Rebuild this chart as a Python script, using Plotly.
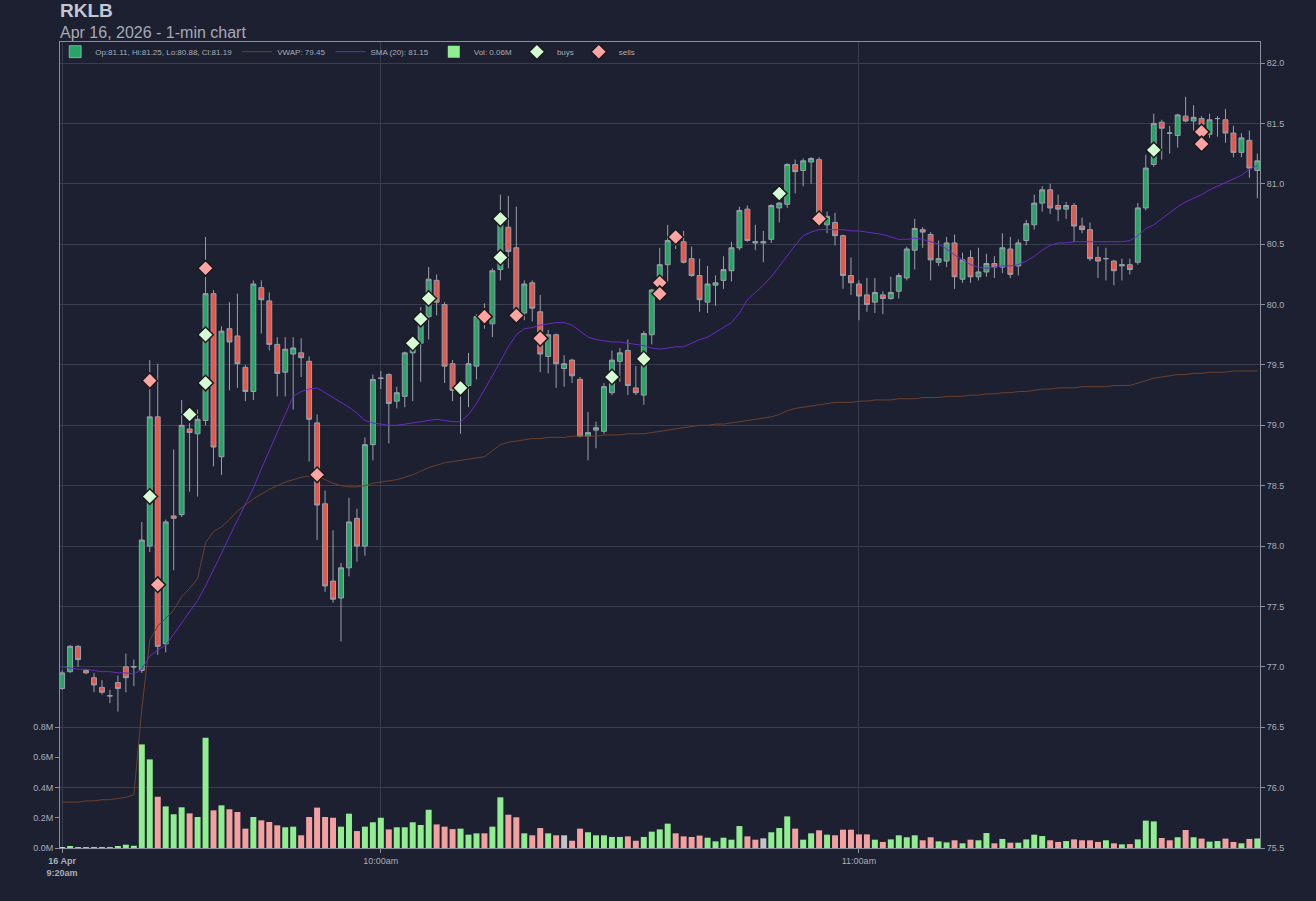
import pandas as pd
import plotly.graph_objects as go

# ---- data (16 Apr 2026, 9:20am -> 11:50am) ----
start_time = "2026-04-16 09:20"

opens = [
    76.82, 76.96, 77.17, 76.97, 76.91, 76.83, 76.76, 76.87, 77.00, 77.00,
    76.97, 78.00, 79.07, 77.19, 78.25, 78.26, 78.97, 78.93, 79.04, 80.09,
    78.74, 79.80, 79.74, 79.48, 79.28, 80.14, 80.03, 79.67, 79.44, 79.59,
    79.60, 79.53, 79.02, 78.35, 77.71, 77.57, 77.82, 78.23, 78.00, 78.84,
    79.39, 79.42, 79.20, 79.24, 79.60, 79.68, 79.90, 80.20, 80.00, 79.51,
    79.28, 79.33, 79.49, 79.88, 79.84, 80.29, 80.64, 80.47, 79.93, 80.18,
    79.94, 79.57, 79.75, 79.47, 79.54, 79.38, 78.91, 78.96, 78.95, 79.27,
    79.53, 79.62, 79.31, 79.25, 79.75, 80.11, 80.33, 80.56, 80.52, 80.38,
    80.24, 80.02, 80.16, 80.20, 80.28, 80.47, 80.79, 80.51, 80.51, 80.54,
    80.80, 80.83, 81.16, 81.11, 81.18, 81.20, 80.66, 80.68, 80.57, 80.24,
    80.17, 80.08, 80.02, 80.08, 80.05, 80.11, 80.22, 80.45, 80.62, 80.58,
    80.35, 80.36, 80.51, 80.21, 80.39, 80.23, 80.27, 80.34, 80.31, 80.46,
    80.32, 80.53, 80.66, 80.84, 80.95, 80.82, 80.79, 80.82, 80.65, 80.62,
    80.39, 80.38, 80.36, 80.32, 80.33, 80.35, 80.80, 81.16, 81.51, 81.42,
    81.40, 81.56, 81.52, 81.54, 81.41, 81.54, 81.53, 81.42, 81.26, 81.36,
    81.11,
]
highs = [
    76.97, 77.18, 77.18, 76.98, 76.95, 76.89, 76.81, 76.93, 77.11, 77.06,
    78.20, 79.54, 79.51, 78.22, 78.80, 79.21, 79.13, 79.13, 80.56, 80.12,
    79.82, 80.02, 80.09, 79.50, 80.20, 80.20, 80.10, 79.73, 79.73, 79.73,
    79.72, 79.57, 79.09, 78.46, 78.13, 77.86, 78.40, 78.31, 78.90, 79.42,
    79.45, 79.43, 79.32, 79.61, 79.71, 79.98, 80.31, 80.25, 80.02, 79.54,
    79.36, 79.60, 79.92, 80.01, 80.30, 80.91, 80.90, 80.81, 80.20, 80.20,
    80.08, 79.79, 79.76, 79.58, 79.55, 79.40, 79.11, 79.03, 79.35, 79.62,
    79.64, 79.71, 79.49, 79.78, 80.13, 80.47, 80.66, 80.63, 80.61, 80.48,
    80.38, 80.32, 80.24, 80.40, 80.52, 80.81, 80.82, 80.66, 80.61, 80.83,
    80.88, 81.17, 81.20, 81.21, 81.22, 81.22, 80.77, 80.76, 80.58, 80.39,
    80.20, 80.22, 80.22, 80.11, 80.23, 80.26, 80.48, 80.71, 80.64, 80.60,
    80.53, 80.56, 80.58, 80.43, 80.45, 80.47, 80.42, 80.40, 80.59, 80.56,
    80.54, 80.70, 80.91, 80.98, 81.00, 80.91, 80.85, 80.84, 80.72, 80.68,
    80.48, 80.47, 80.37, 80.38, 80.38, 80.84, 81.24, 81.58, 81.53, 81.48,
    81.58, 81.72, 81.65, 81.56, 81.58, 81.56, 81.62, 81.48, 81.42, 81.44,
    81.25,
]
lows = [
    76.81, 76.95, 77.00, 76.94, 76.79, 76.77, 76.70, 76.63, 76.79, 76.84,
    76.95, 77.95, 77.10, 77.12, 77.80, 78.24, 78.45, 78.41, 79.00, 78.66,
    78.59, 79.29, 79.31, 79.20, 79.21, 79.76, 79.62, 79.24, 79.24, 79.13,
    79.40, 78.70, 78.05, 77.62, 77.53, 77.21, 77.75, 77.87, 77.92, 78.71,
    79.30, 78.85, 79.14, 79.15, 79.20, 79.36, 79.71, 79.91, 79.35, 79.20,
    78.93, 79.15, 79.38, 79.80, 79.73, 80.20, 80.30, 79.90, 79.87, 79.86,
    79.44, 79.43, 79.31, 79.32, 79.35, 78.90, 78.71, 78.81, 78.93, 79.25,
    79.36, 79.25, 79.25, 79.17, 79.67, 80.02, 80.19, 80.46, 80.34, 80.23,
    79.94, 79.93, 79.99, 80.13, 80.19, 80.45, 80.52, 80.45, 80.35, 80.51,
    80.68, 80.80, 80.92, 80.98, 81.00, 80.70, 80.59, 80.49, 80.13, 80.08,
    79.87, 79.94, 79.93, 79.92, 80.04, 80.05, 80.20, 80.29, 80.47, 80.20,
    80.32, 80.31, 80.13, 80.18, 80.18, 80.20, 80.23, 80.22, 80.26, 80.22,
    80.24, 80.49, 80.62, 80.77, 80.75, 80.69, 80.71, 80.52, 80.59, 80.36,
    80.22, 80.20, 80.16, 80.20, 80.25, 80.33, 80.78, 81.14, 81.20, 81.25,
    81.30, 81.51, 81.44, 81.40, 81.38, 81.39, 81.34, 81.22, 81.22, 81.05,
    80.88,
]
closes = [
    76.95, 77.17, 77.06, 76.95, 76.85, 76.79, 76.76, 76.82, 76.91, 77.00,
    78.05, 79.07, 77.17, 78.20, 78.23, 79.00, 78.94, 79.05, 80.09, 78.82,
    79.78, 79.69, 79.51, 79.28, 80.17, 80.04, 79.67, 79.43, 79.63, 79.64,
    79.56, 79.05, 78.34, 77.67, 77.56, 77.82, 78.20, 78.00, 78.84, 79.38,
    79.39, 79.18, 79.27, 79.60, 79.64, 79.87, 80.21, 80.02, 79.49, 79.29,
    79.33, 79.51, 79.90, 79.86, 80.28, 80.67, 80.44, 79.93, 80.17, 79.97,
    79.59, 79.75, 79.51, 79.51, 79.41, 78.91, 78.94, 78.98, 79.32, 79.54,
    79.60, 79.33, 79.27, 79.76, 80.12, 80.33, 80.53, 80.52, 80.35, 80.24,
    80.04, 80.17, 80.18, 80.29, 80.47, 80.78, 80.53, 80.52, 80.52, 80.82,
    80.84, 81.16, 81.10, 81.19, 81.21, 80.72, 80.73, 80.57, 80.24, 80.18,
    80.07, 80.00, 80.10, 80.05, 80.10, 80.24, 80.46, 80.63, 80.60, 80.37,
    80.38, 80.51, 80.23, 80.37, 80.23, 80.27, 80.34, 80.31, 80.47, 80.25,
    80.51, 80.67, 80.84, 80.95, 80.80, 80.79, 80.82, 80.65, 80.62, 80.38,
    80.36, 80.38, 80.28, 80.33, 80.29, 80.80, 81.13, 81.50, 81.46, 81.42,
    81.57, 81.52, 81.55, 81.49, 81.53, 81.54, 81.42, 81.26, 81.38, 81.13,
    81.19,
]
# volume in millions of shares
volumes = [
    0.005, 0.011, 0.004, 0.002, 0.004, 0.002, 0.004, 0.011, 0.022, 0.015,
    0.685, 0.586, 0.339, 0.275, 0.223, 0.269, 0.229, 0.205, 0.729, 0.249,
    0.282, 0.256, 0.238, 0.128, 0.205, 0.183, 0.172, 0.150, 0.137, 0.141,
    0.084, 0.205, 0.267, 0.205, 0.200, 0.141, 0.227, 0.112, 0.141, 0.170,
    0.200, 0.123, 0.137, 0.137, 0.170, 0.152, 0.253, 0.156, 0.141, 0.125,
    0.128, 0.088, 0.097, 0.097, 0.141, 0.335, 0.220, 0.203, 0.097, 0.084,
    0.132, 0.097, 0.084, 0.084, 0.048, 0.128, 0.104, 0.084, 0.084, 0.073,
    0.073, 0.077, 0.048, 0.073, 0.108, 0.123, 0.161, 0.097, 0.077, 0.073,
    0.082, 0.068, 0.044, 0.068, 0.055, 0.145, 0.077, 0.055, 0.064, 0.104,
    0.132, 0.209, 0.128, 0.055, 0.097, 0.117, 0.088, 0.084, 0.121, 0.121,
    0.090, 0.090, 0.055, 0.040, 0.057, 0.084, 0.071, 0.084, 0.051, 0.071,
    0.044, 0.037, 0.051, 0.031, 0.055, 0.051, 0.099, 0.031, 0.060, 0.035,
    0.035, 0.057, 0.088, 0.079, 0.051, 0.040, 0.046, 0.057, 0.051, 0.051,
    0.040, 0.051, 0.031, 0.024, 0.026, 0.057, 0.181, 0.176, 0.066, 0.051,
    0.071, 0.119, 0.071, 0.062, 0.042, 0.046, 0.062, 0.040, 0.031, 0.060,
    0.063,
]
vwap = [
    75.88, 75.88, 75.88, 75.89, 75.89, 75.90, 75.90, 75.91, 75.92, 75.94,
    76.65, 77.22, 77.34, 77.40, 77.47, 77.58, 77.65, 77.73, 78.03, 78.12,
    78.16, 78.22, 78.29, 78.34, 78.39, 78.43, 78.47, 78.50, 78.53, 78.55,
    78.57, 78.58, 78.58, 78.55, 78.52, 78.50, 78.49, 78.49, 78.50, 78.52,
    78.53, 78.54, 78.55, 78.57, 78.59, 78.62, 78.65, 78.67, 78.69, 78.70,
    78.71, 78.72, 78.73, 78.74, 78.79, 78.84, 78.86, 78.87, 78.88, 78.89,
    78.89, 78.90, 78.90, 78.90, 78.91, 78.91, 78.91, 78.91, 78.92, 78.92,
    78.92, 78.93, 78.93, 78.93, 78.94, 78.95, 78.96, 78.97, 78.98, 78.99,
    79.00, 79.00, 79.01, 79.01, 79.02, 79.03, 79.04, 79.05, 79.06, 79.07,
    79.09, 79.12, 79.14, 79.15, 79.16, 79.17, 79.18, 79.19, 79.19, 79.19,
    79.20, 79.20, 79.21, 79.21, 79.21, 79.22, 79.22, 79.22, 79.23, 79.23,
    79.23, 79.24, 79.24, 79.24, 79.25, 79.25, 79.26, 79.26, 79.27, 79.27,
    79.28, 79.28, 79.29, 79.30, 79.30, 79.31, 79.31, 79.31, 79.32, 79.32,
    79.32, 79.32, 79.33, 79.33, 79.33, 79.35, 79.37, 79.39, 79.40, 79.41,
    79.42, 79.42, 79.43, 79.43, 79.44, 79.44, 79.44, 79.45, 79.45, 79.45,
    79.45,
]
sma20 = [
    77.00, 76.99, 76.98, 76.98, 76.97, 76.96, 76.96, 76.95, 76.95, 76.94,
    76.98, 77.09, 77.14, 77.18, 77.27, 77.36, 77.45, 77.55, 77.67, 77.80,
    77.94, 78.08, 78.21, 78.34, 78.48, 78.64, 78.79, 78.95, 79.10, 79.24,
    79.28, 79.30, 79.31, 79.27, 79.23, 79.19, 79.15, 79.10, 79.04, 79.02,
    79.01, 79.00, 79.00, 79.01, 79.02, 79.03, 79.04, 79.05, 79.04, 79.03,
    79.03, 79.09, 79.18, 79.29, 79.41, 79.53, 79.65, 79.75, 79.80, 79.81,
    79.83, 79.84, 79.85, 79.85, 79.83, 79.78, 79.73, 79.71, 79.70, 79.69,
    79.69, 79.68, 79.67, 79.66, 79.64, 79.63, 79.64, 79.65, 79.65, 79.68,
    79.71, 79.73, 79.77, 79.81, 79.85, 79.93, 80.04, 80.10, 80.16, 80.23,
    80.32, 80.41, 80.49, 80.57, 80.60, 80.62, 80.62, 80.62, 80.62, 80.61,
    80.61, 80.60, 80.59, 80.58, 80.56, 80.54, 80.54, 80.55, 80.54, 80.52,
    80.50, 80.46, 80.41, 80.37, 80.33, 80.31, 80.30, 80.31, 80.32, 80.32,
    80.33, 80.36, 80.40, 80.45, 80.49, 80.51, 80.51, 80.52, 80.52, 80.52,
    80.52, 80.52, 80.52, 80.52, 80.53, 80.57, 80.63, 80.66, 80.71, 80.76,
    80.81, 80.85, 80.88, 80.91, 80.95, 80.98, 81.01, 81.04, 81.07, 81.12,
    81.15,
]

# trade markers: candle index + price
buy_idx = [11, 16, 18, 18, 44, 45, 46, 50, 55, 55, 69, 73, 90, 137]
buy_px = [78.41, 79.09, 79.75, 79.35, 79.68, 79.88, 80.05, 79.31,
          80.71, 80.39, 79.40, 79.55, 80.92, 81.28]
sell_idx = [11, 12, 18, 32, 53, 57, 60, 75, 75, 77, 95, 143, 143]
sell_px = [79.37, 77.68, 80.30, 78.59, 79.90, 79.91, 79.72, 80.18,
           80.09, 80.56, 80.71, 81.43, 81.33]

price_ticks = [75.5, 76.0, 76.5, 77.0, 77.5, 78.0, 78.5, 79.0, 79.5,
               80.0, 80.5, 81.0, 81.5, 82.0]
vol_ticks = [0.0, 0.2, 0.4, 0.6, 0.8]
time_ticks = ["2026-04-16 09:20", "2026-04-16 10:00", "2026-04-16 11:00"]
time_labels = ["<b>16 Apr</b><br><b>9:20am</b>", "10:00am", "11:00am"]

# ---- styling ----
BG = "#1c2030"
GRID = "#393e4e"
AXIS = "#8a8f9c"
TXT = "#a9adb8"
GREEN = "#27a566"
RED = "#e5584b"
WICK = "#9a9fab"
VOL_UP = "#90ee90"
VOL_DN = "#f3a0a0"
VOL_EQ = "#c2c3c9"
FONT = "Liberation Sans, Arial, sans-serif"

times = pd.date_range(start_time, periods=len(closes), freq="min")

vol_colors = []
for i, c in enumerate(closes):
    prev = closes[i - 1] if i > 0 else None
    if prev is None or c > prev:
        vol_colors.append(VOL_UP)
    elif c < prev:
        vol_colors.append(VOL_DN)
    else:
        vol_colors.append(VOL_EQ)

fig = go.Figure()

fig.add_trace(go.Bar(
    x=times, y=volumes, yaxis="y", width=45000,
    marker=dict(color=vol_colors, line=dict(width=0)),
    name=f"Vol: {volumes[-1]:.2f}M", legendrank=4,
))
candle_label = (f"Op:{opens[-1]:.2f}, Hi:{highs[-1]:.2f}, "
                f"Lo:{lows[-1]:.2f}, Cl:{closes[-1]:.2f}")
fig.add_trace(go.Candlestick(
    x=times, open=opens, high=highs, low=lows, close=closes, yaxis="y2",
    increasing=dict(fillcolor=GREEN, line=dict(color=WICK, width=1)),
    decreasing=dict(fillcolor=RED, line=dict(color=WICK, width=1)),
    whiskerwidth=0, name=candle_label, showlegend=False,
))
# legend swatch for the candles (plain green square, as in the original)
fig.add_trace(go.Bar(
    x=[None], y=[None], yaxis="y", marker=dict(color=GREEN),
    name=candle_label, legendrank=1,
))
fig.add_trace(go.Scatter(
    x=times, y=vwap, yaxis="y2", mode="lines",
    line=dict(color="#6e402c", width=1),
    name=f"VWAP: {vwap[-1]:.2f}", legendrank=2,
))
fig.add_trace(go.Scatter(
    x=times, y=sma20, yaxis="y2", mode="lines",
    line=dict(color="#6a2bc0", width=1),
    name=f"SMA (20): {sma20[-1]:.2f}", legendrank=3,
))
fig.add_trace(go.Scatter(
    x=[times[i] for i in buy_idx], y=buy_px, yaxis="y2", mode="markers",
    marker=dict(symbol="diamond", size=12, color="#d4fcd4",
                line=dict(color="#1a1a1a", width=1.5)),
    name="buys", legendrank=5,
))
fig.add_trace(go.Scatter(
    x=[times[i] for i in sell_idx], y=sell_px, yaxis="y2", mode="markers",
    marker=dict(symbol="diamond", size=12, color="#ffa3a3",
                line=dict(color="#1a1a1a", width=1.5)),
    name="sells", legendrank=6,
))

fig.update_layout(
    width=1316, height=901,
    margin=dict(l=60, r=56, t=42, b=53),
    paper_bgcolor=BG, plot_bgcolor=BG,
    font=dict(family=FONT, size=9, color=TXT),
    boxgap=0.12,
    showlegend=True,
    legend=dict(orientation="h", x=-0.004, y=1.006, xanchor="left",
                yanchor="top", bgcolor="rgba(0,0,0,0)",
                font=dict(size=8, color=TXT), itemwidth=30, tracegroupgap=0),
    xaxis=dict(
        type="date",
        range=["2026-04-16 09:19:44", "2026-04-16 11:50:20"],
        tickvals=time_ticks, ticktext=time_labels,
        showgrid=True, gridcolor=GRID, gridwidth=1,
        showline=True, linecolor=AXIS, mirror=True,
        ticks="outside", ticklen=4, tickcolor=AXIS,
        tickfont=dict(size=9, color=TXT),
        rangeslider=dict(visible=False),
        zeroline=False,
    ),
    yaxis=dict(
        side="left", range=[0, 5.33],
        tickvals=vol_ticks, ticktext=[f"{v:.1f}M" for v in vol_ticks],
        showgrid=False, zeroline=False,
        showline=True, linecolor=AXIS, mirror=True,
        ticks="outside", ticklen=4, tickcolor=AXIS,
        tickfont=dict(size=9, color=TXT),
    ),
    yaxis2=dict(
        overlaying="y", side="right", range=[75.5, 82.174],
        tickvals=price_ticks, ticktext=[f"{p:.1f}" for p in price_ticks],
        showgrid=True, gridcolor=GRID, gridwidth=1, zeroline=False,
        ticks="outside", ticklen=4, tickcolor=AXIS,
        tickfont=dict(size=9, color=TXT),
    ),
    annotations=[
        dict(text="<b>RKLB</b>", xref="paper", yref="paper", x=0, y=1.0385,
             xanchor="left", yanchor="middle", xshift=-2, showarrow=False,
             font=dict(family=FONT, size=19, color="#c3c7d1")),
        dict(text="Apr 16, 2026 - 1-min chart", xref="paper", yref="paper",
             x=0, y=1.0124, xanchor="left", yanchor="middle", xshift=-2,
             showarrow=False, font=dict(family=FONT, size=16, color="#a6aab4")),
    ],
)

# page chrome: no body margin so the figure sits at the window's top-left
fig.write_html(
    "out.html",
    config={"displayModeBar": False},
    post_script=(
        "document.body.style.margin='0';"
        f"document.body.style.background='{BG}';"
        "document.body.style.overflow='hidden';"
    ),
)
